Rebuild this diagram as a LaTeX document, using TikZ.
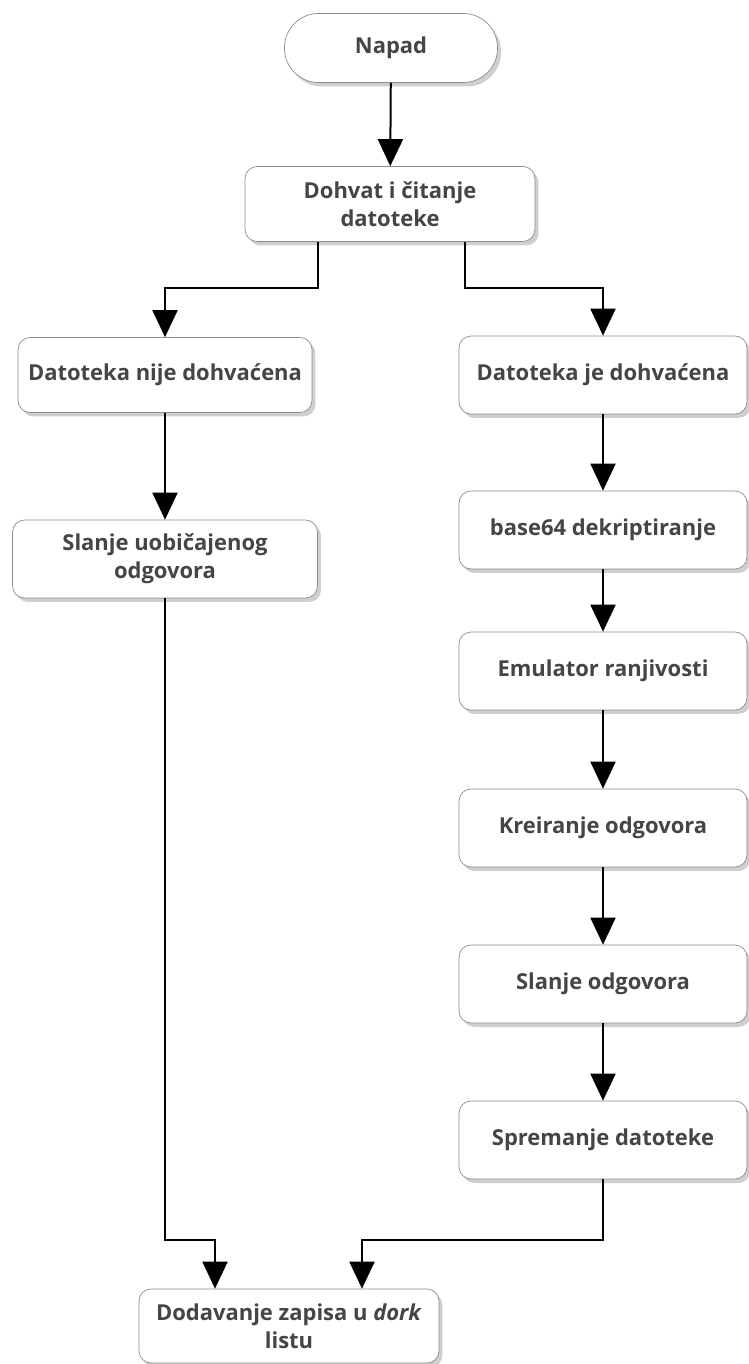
\documentclass[tikz,border=0pt]{standalone}
\usepackage{fontspec}
\setmainfont{Open Sans}
\usetikzlibrary{arrows.meta,shadows}
\definecolor{textgray}{HTML}{454545}
\definecolor{boxgray}{HTML}{8C8C8C}

\begin{document}
\begin{tikzpicture}[x=0.02cm,y=-0.02cm,
  main node/.style={rectangle,rounded corners=0.24cm,draw=boxgray,fill=white,
    drop shadow={shadow xshift=0.07cm,shadow yshift=-0.08cm,fill=gray!75},
    text=textgray,font=\bfseries\fontsize{12.5}{16}\selectfont,align=center,
    minimum width=5.76cm,minimum height=1.56cm,inner sep=2pt},
  start node/.style={main node,rounded corners=0.68cm,minimum width=4.26cm,minimum height=1.38cm},
  link/.style={draw,line width=0.04cm,-{Triangle[width=0.5cm,length=0.54cm]}}]
  \useasboundingbox (0,0) rectangle (748,1364);

  \node[start node] (1) at (391,48) {Napad};
  \node[main node, minimum width=5.8cm, minimum height=1.5cm] (2) at (390,204) {Dohvat i čitanje\\datoteke};
  \node[main node, minimum width=5.88cm, minimum height=1.5cm] (3) at (165,375) {Datoteka nije dohvaćena};
  \node[main node, minimum width=6.1cm] (4) at (165,559) {Slanje uobičajenog\\odgovora};
  \node[main node] (5) at (603,375) {Datoteka je dohvaćena};
  \node[main node] (6) at (603,530) {base64 dekriptiranje};
  \node[main node] (7) at (603,671) {Emulator ranjivosti};
  \node[main node] (8) at (603,828) {Kreiranje odgovora};
  \node[main node] (9) at (603,984) {Slanje odgovora};
  \node[main node] (10) at (603,1140) {Spremanje datoteke};
  \node[main node, minimum width=6.0cm, minimum height=1.48cm] (11) at (289,1326) {Dodavanje zapisa u \textit{dork}\\listu};

  % bends of the connectors
  \coordinate (b1) at (318,288);
  \coordinate (b2) at (465,288);
  \coordinate (m1) at (215,1240);
  \coordinate (m2) at (362,1240);

  \path[link]
    (1) edge (2)
    (3) edge (4)
    (5) edge (6)
    (6) edge (7)
    (7) edge (8)
    (8) edge (9)
    (9) edge (10);
  \draw[link] (b1 |- 2.south) -- (b1) -| (3.north);
  \draw[link] (b2 |- 2.south) -- (b2) -| (5.north);
  \draw[link] (4.south) |- (m1) -- (m1 |- 11.north);
  \draw[link] (10.south) |- (m2) -- (m2 |- 11.north);
\end{tikzpicture}
\end{document}
